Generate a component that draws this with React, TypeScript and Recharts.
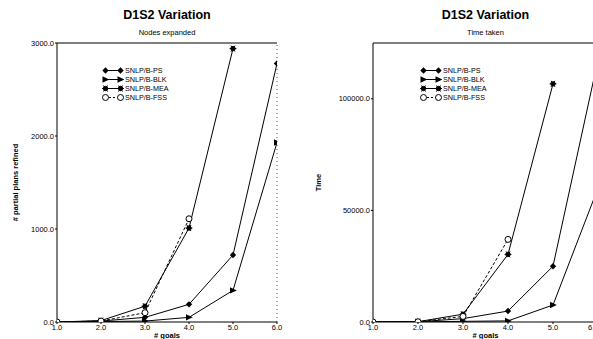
import React from "react";
import {
  LineChart,
  Line,
  XAxis,
  YAxis,
  ReferenceLine,
  Legend,
} from "recharts";

const goals = [1, 2, 3, 4, 5, 6];
const goalTicks = [1, 2, 3, 4, 5, 6];

// nodes expanded (# partial plans refined)
const nodesPS = [0, 10, 50, 190, 720, 2780];
const nodesBLK = [0, 5, 10, 50, 340, 1930];
const nodesMEA = [0, 15, 170, 1010, 2940, null];
const nodesFSS = [0, 10, 100, 1110, null, null];
const nodesTicks = [0, 1000, 2000, 3000];

// time taken
const timePS = [0, 100, 1500, 4900, 25000, 117500];
const timeBLK = [0, 50, 300, 500, 7600, 60000];
const timeMEA = [0, 150, 3500, 30300, 106700, null];
const timeFSS = [0, 100, 2500, 37000, null, null];
const timeTicks = [0, 50000, 100000];

const seriesNames = ["SNLP/B-PS", "SNLP/B-BLK", "SNLP/B-MEA", "SNLP/B-FSS"];
const seriesKeys = ["ps", "blk", "mea", "fss"];
const markerKinds = ["diamond", "triangle", "star", "circle"];

const font = "'Liberation Sans', Arial, sans-serif";

function toRows(ps, blk, mea, fss) {
  return goals.map((g, i) => ({
    goal: g,
    ps: ps[i],
    blk: blk[i],
    mea: mea[i],
    fss: fss[i],
  }));
}

const nodesRows = toRows(nodesPS, nodesBLK, nodesMEA, nodesFSS);
const timeRows = toRows(timePS, timeBLK, timeMEA, timeFSS);

function Marker({ kind, cx, cy }: { kind: string; cx: number; cy: number }) {
  if (cx == null || cy == null || isNaN(cx) || isNaN(cy)) return <g />;
  if (kind === "diamond") {
    return (
      <polygon
        points={`${cx},${cy - 3.2} ${cx + 3.2},${cy} ${cx},${cy + 3.2} ${cx - 3.2},${cy}`}
        fill="#000"
      />
    );
  }
  if (kind === "triangle") {
    return (
      <polygon
        points={`${cx - 3},${cy - 3.2} ${cx + 3.8},${cy} ${cx - 3},${cy + 3.2}`}
        fill="#000"
      />
    );
  }
  if (kind === "star") {
    return (
      <g stroke="#000" strokeWidth={1}>
        <circle cx={cx} cy={cy} r={2.2} fill="#000" />
        <line x1={cx - 3.4} y1={cy} x2={cx + 3.4} y2={cy} />
        <line x1={cx - 2} y1={cy - 3} x2={cx + 2} y2={cy + 3} />
        <line x1={cx - 2} y1={cy + 3} x2={cx + 2} y2={cy - 3} />
      </g>
    );
  }
  return <circle cx={cx} cy={cy} r={3} fill="#fff" stroke="#000" strokeWidth={1} />;
}

function LegendBox() {
  return (
    <div style={{ fontFamily: font, fontSize: 7.2, color: "#000", lineHeight: "9px" }}>
      {seriesNames.map((name, i) => (
        <div key={name} style={{ display: "flex", alignItems: "center", height: 9 }}>
          <svg width={22} height={9} style={{ display: "block" }}>
            <line
              x1={3}
              y1={4.5}
              x2={19}
              y2={4.5}
              stroke="#000"
              strokeWidth={1}
              strokeDasharray={i === 3 ? "2 2" : undefined}
            />
            <Marker kind={markerKinds[i]} cx={3.5} cy={4.5} />
            <Marker kind={markerKinds[i]} cx={18.5} cy={4.5} />
          </svg>
          <span style={{ marginLeft: 1 }}>{name}</span>
        </div>
      ))}
    </div>
  );
}

function Panel({
  rows,
  yMax,
  yTicks,
  yAxisWidth,
  width,
  rightMargin,
  legendLeft,
  title,
  subtitle,
  yLabel,
  yLabelX,
  drawRightBorder,
}) {
  const plotCenter = yAxisWidth + (width - yAxisWidth - rightMargin) / 2;
  return (
    <div style={{ position: "relative", width, height: 339 }}>
      <LineChart
        width={width}
        height={339}
        data={rows}
        margin={{ top: 43, right: rightMargin, bottom: 0, left: 0 }}
      >
        <XAxis
          dataKey="goal"
          type="number"
          domain={[1, 6]}
          ticks={goalTicks}
          tickFormatter={(v) => Number(v).toFixed(1)}
          height={17}
          tickSize={2}
          tickMargin={1}
          stroke="#000"
          tick={{ fill: "#000", fontSize: 7.5, fontFamily: font }}
          allowDataOverflow
        />
        <YAxis
          type="number"
          domain={[0, yMax]}
          ticks={yTicks}
          tickFormatter={(v) => Number(v).toFixed(1)}
          width={yAxisWidth}
          tickSize={2}
          tickMargin={1}
          stroke="#000"
          tick={{ fill: "#000", fontSize: 7.5, fontFamily: font }}
          allowDataOverflow
          interval={0}
        />
        <ReferenceLine y={yMax} stroke="#000" strokeWidth={1} />
        {drawRightBorder ? (
          <ReferenceLine x={6} stroke="#555" strokeWidth={1} strokeDasharray="1 3" />
        ) : null}
        {seriesKeys.map((k, i) => (
          <Line
            key={k}
            dataKey={k}
            type="linear"
            stroke="#000"
            strokeWidth={1}
            strokeDasharray={i === 3 ? "3 2" : undefined}
            isAnimationActive={false}
            connectNulls={false}
            dot={(p) => <Marker key={`${k}-${p.index}`} kind={markerKinds[i]} cx={p.cx} cy={p.cy} />}
            activeDot={false}
          />
        ))}
        <Legend
          layout="vertical"
          align="center"
          verticalAlign="middle"
          content={() => <LegendBox />}
          wrapperStyle={{ left: legendLeft, top: 66, width: 90, height: 40 }}
        />
      </LineChart>
      <div
        style={{
          position: "absolute",
          left: plotCenter - 140,
          width: 280,
          top: 8,
          textAlign: "center",
          fontFamily: font,
          fontWeight: "bold",
          fontSize: 12.5,
        }}
      >
        {title}
      </div>
      <div
        style={{
          position: "absolute",
          left: plotCenter - 140,
          width: 280,
          top: 28,
          textAlign: "center",
          fontFamily: font,
          fontSize: 7.5,
        }}
      >
        {subtitle}
      </div>
      <div
        style={{
          position: "absolute",
          left: plotCenter - 140,
          width: 280,
          top: 331,
          textAlign: "center",
          fontFamily: font,
          fontWeight: "bold",
          fontSize: 7.5,
        }}
      >
        # goals
      </div>
      <div
        style={{
          position: "absolute",
          left: yLabelX - 60,
          top: 178,
          width: 120,
          textAlign: "center",
          fontFamily: font,
          fontWeight: "bold",
          fontSize: 7.5,
          transform: "rotate(-90deg)",
        }}
      >
        {yLabel}
      </div>
    </div>
  );
}

export default function App() {
  return (
    <div
      style={{
        position: "absolute",
        left: 0,
        top: 0,
        width: 593,
        height: 339,
        overflow: "hidden",
        background: "#fff",
      }}
    >
      <div style={{ position: "absolute", left: 0, top: 0 }}>
        <Panel
          rows={nodesRows}
          yMax={3000}
          yTicks={nodesTicks}
          yAxisWidth={57}
          width={290}
          rightMargin={13}
          legendLeft={102}
          title="D1S2 Variation"
          subtitle="Nodes expanded"
          yLabel="# partial plans refined"
          yLabelX={15}
          drawRightBorder
        />
      </div>
      <div style={{ position: "absolute", left: 293, top: 0 }}>
        <Panel
          rows={timeRows}
          yMax={125000}
          yTicks={timeTicks}
          yAxisWidth={80}
          width={305}
          rightMargin={0}
          legendLeft={127}
          title="D1S2 Variation"
          subtitle="Time taken"
          yLabel="Time"
          yLabelX={25}
          drawRightBorder={false}
        />
      </div>
    </div>
  );
}
